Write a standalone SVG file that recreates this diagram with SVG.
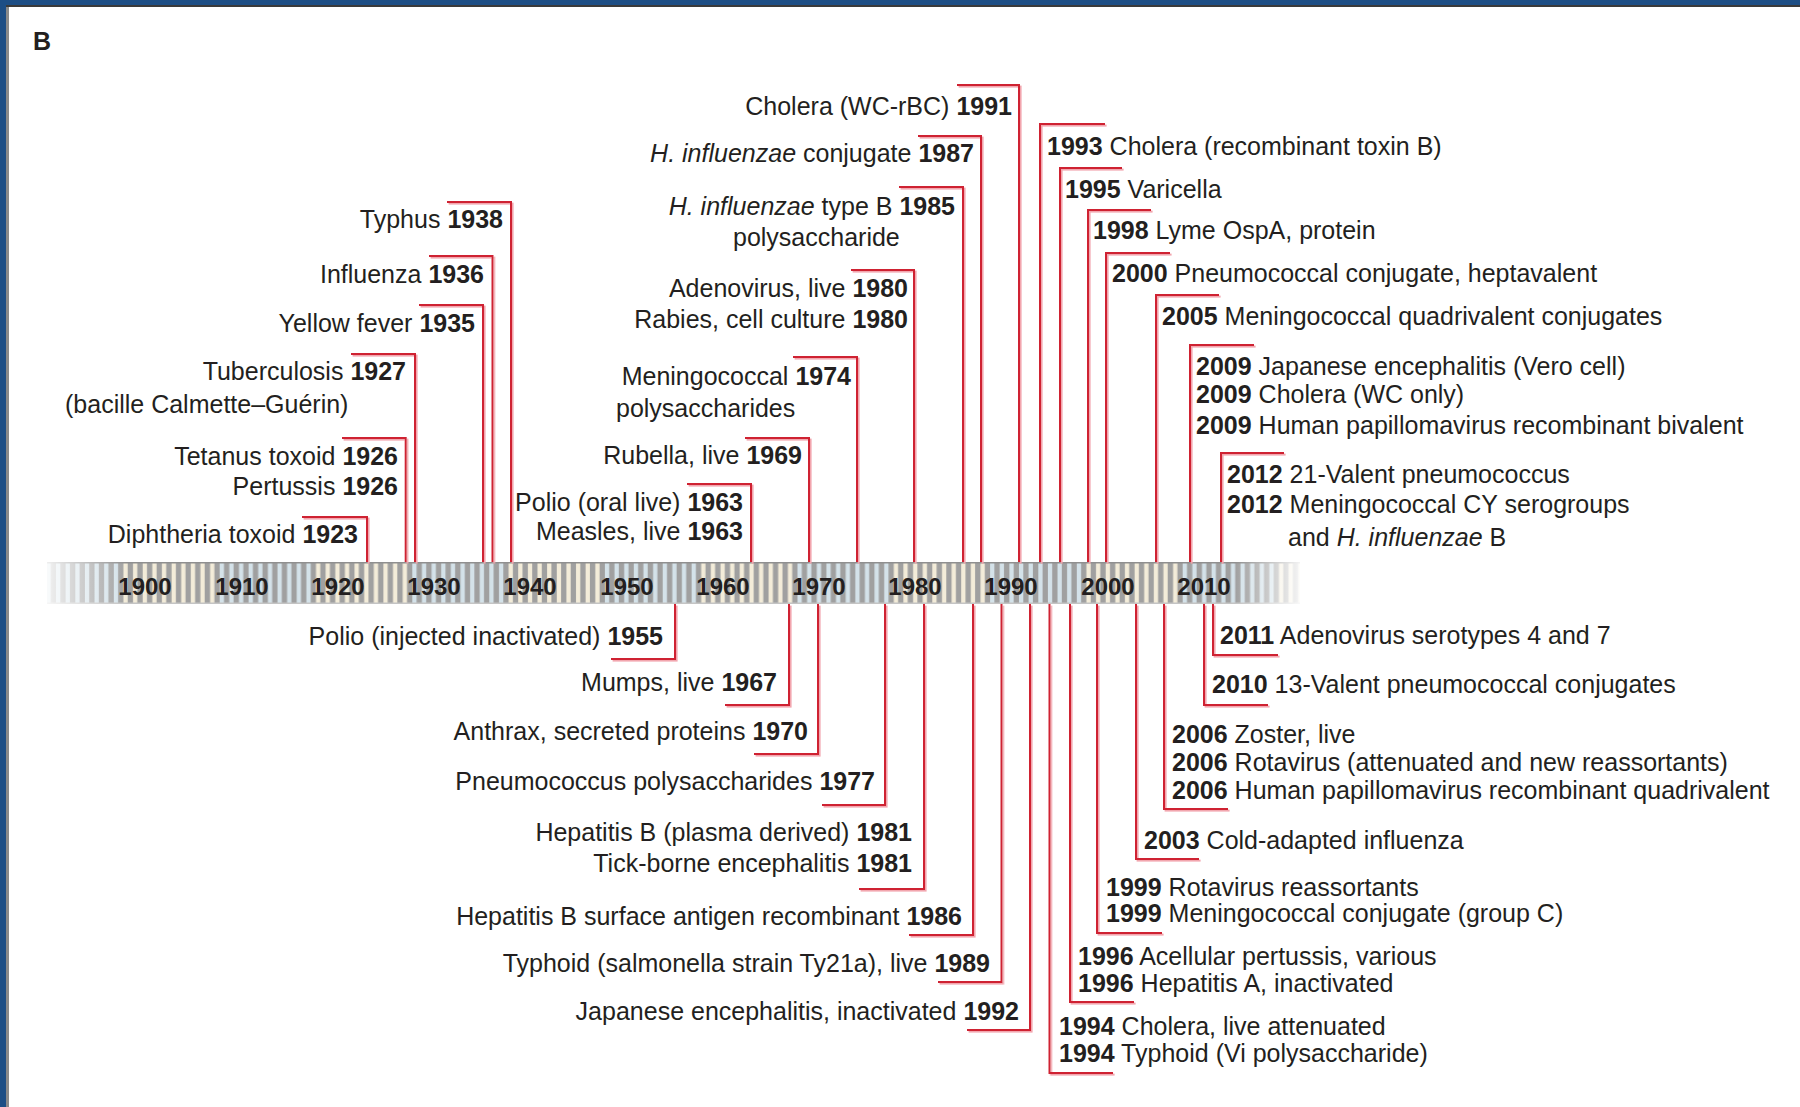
<svg xmlns="http://www.w3.org/2000/svg" width="1800" height="1107" viewBox="0 0 1800 1107">
<style>
.t{font-family:"Liberation Sans",Arial,sans-serif;font-size:25px;fill:#231f20}
.e{text-anchor:end}
.b{font-weight:bold}
.i{font-style:italic}
.yr{font-family:"Liberation Sans",Arial,sans-serif;font-size:24px;font-weight:bold;fill:#231f20;text-anchor:middle}
.c{fill:none;stroke:#cf2233;stroke-width:2}
</style>
<defs>
<filter id="sh" x="-5%" y="-5%" width="110%" height="110%">
<feDropShadow dx="1.6" dy="1.6" stdDeviation="0.4" flood-color="#f2a6ae" flood-opacity="1"/>
</filter>
<pattern id="stripes" patternUnits="userSpaceOnUse" x="120.9" y="0" width="192.6" height="50">
<rect x="0" y="0" width="192.6" height="50" fill="#a0a0a0"/>
<g fill="#f3ecd9">
<rect x="2.5" y="0" width="4.3" height="50"/><rect x="12.1" y="0" width="4.3" height="50"/><rect x="21.8" y="0" width="4.3" height="50"/><rect x="31.4" y="0" width="4.3" height="50"/><rect x="41" y="0" width="4.3" height="50"/><rect x="50.7" y="0" width="4.3" height="50"/><rect x="60.3" y="0" width="4.3" height="50"/><rect x="69.9" y="0" width="4.3" height="50"/><rect x="79.5" y="0" width="4.3" height="50"/><rect x="89.2" y="0" width="4.3" height="50"/>
</g>
<g fill="#d4e2e9">
<rect x="98.8" y="0" width="4.3" height="50"/><rect x="108.4" y="0" width="4.3" height="50"/><rect x="118.1" y="0" width="4.3" height="50"/><rect x="127.7" y="0" width="4.3" height="50"/><rect x="137.3" y="0" width="4.3" height="50"/><rect x="147" y="0" width="4.3" height="50"/><rect x="156.6" y="0" width="4.3" height="50"/><rect x="166.2" y="0" width="4.3" height="50"/><rect x="175.8" y="0" width="4.3" height="50"/><rect x="185.5" y="0" width="4.3" height="50"/>
</g>
</pattern>
<linearGradient id="fadeL" x1="0" y1="0" x2="1" y2="0">
<stop offset="0" stop-color="#fff" stop-opacity="0.85"/>
<stop offset="1" stop-color="#fff" stop-opacity="0"/>
</linearGradient>
<linearGradient id="fadeR" x1="0" y1="0" x2="1" y2="0">
<stop offset="0" stop-color="#fff" stop-opacity="0"/>
<stop offset="1" stop-color="#fff" stop-opacity="0.9"/>
</linearGradient>
</defs>
<rect x="0" y="0" width="1800" height="1107" fill="#fff"/>
<g id="frame">
<rect x="0" y="0" width="1800" height="5" fill="#1d4e85"/>
<rect x="0" y="5" width="1800" height="2" fill="#3a3a3a"/>
<rect x="0" y="0" width="6" height="1107" fill="#1d4e85"/>
<rect x="6" y="7" width="3" height="1100" fill="#8a8a8a"/>
</g>
<text class="t b" x="33" y="50" font-size="25">B</text>
<g id="timeline">
<rect x="47" y="562" width="1253" height="42" fill="url(#stripes)"/>
<rect x="47" y="562" width="1253" height="1.5" fill="#8f8f8f"/>
<rect x="47" y="602.5" width="1253" height="1.5" fill="#c4c4c4"/>
<rect x="47" y="561" width="80" height="44" fill="url(#fadeL)"/>
<rect x="1235" y="561" width="66" height="44" fill="url(#fadeR)"/>
<text class="yr" x="145" y="595">1900</text>
<text class="yr" x="242" y="595">1910</text>
<text class="yr" x="338" y="595">1920</text>
<text class="yr" x="434" y="595">1930</text>
<text class="yr" x="530" y="595">1940</text>
<text class="yr" x="627" y="595">1950</text>
<text class="yr" x="723" y="595">1960</text>
<text class="yr" x="819" y="595">1970</text>
<text class="yr" x="915" y="595">1980</text>
<text class="yr" x="1011" y="595">1990</text>
<text class="yr" x="1108" y="595">2000</text>
<text class="yr" x="1204" y="595">2010</text>
</g>
<g id="connectors" filter="url(#sh)">
<path class="c" d="M511,562V202H447"/>
<path class="c" d="M492.5,562V256H429"/>
<path class="c" d="M483,562V305H419"/>
<path class="c" d="M415,562V354H351"/>
<path class="c" d="M405.7,562V438H342"/>
<path class="c" d="M367,562V517H302"/>
<path class="c" d="M751,562V484H687"/>
<path class="c" d="M809,562V438H745"/>
<path class="c" d="M857,562V357H793"/>
<path class="c" d="M914,562V270H851"/>
<path class="c" d="M963,562V187H899"/>
<path class="c" d="M981,562V136H918"/>
<path class="c" d="M1019,562V85H957"/>
<path class="c" d="M1040,562V124H1105"/>
<path class="c" d="M1060,562V168H1122"/>
<path class="c" d="M1088,562V210H1151"/>
<path class="c" d="M1106,562V253H1170"/>
<path class="c" d="M1156,562V295H1219"/>
<path class="c" d="M1190,562V345H1254"/>
<path class="c" d="M1221,562V453H1284"/>
<path class="c" d="M675,604V659H611"/>
<path class="c" d="M789,604V705H725"/>
<path class="c" d="M818,604V754H754"/>
<path class="c" d="M885,604V805H822"/>
<path class="c" d="M924,604V889H859"/>
<path class="c" d="M973,604V935H909"/>
<path class="c" d="M1001.5,604V982H938"/>
<path class="c" d="M1030,604V1030H967"/>
<path class="c" d="M1049.5,604V1073H1113"/>
<path class="c" d="M1070,604V1002H1134"/>
<path class="c" d="M1097,604V933H1162"/>
<path class="c" d="M1136,604V859H1199"/>
<path class="c" d="M1164,604V809H1228"/>
<path class="c" d="M1204,604V705H1268"/>
<path class="c" d="M1213,604V655H1278"/>
</g>
<g id="n1938"><text class="t e" x="503" y="228">Typhus <tspan class="b">1938</tspan></text></g>
<g id="n1936"><text class="t e" x="484" y="283">Influenza <tspan class="b">1936</tspan></text></g>
<g id="n1935"><text class="t e" x="475" y="332">Yellow fever <tspan class="b">1935</tspan></text></g>
<g id="n1927"><text class="t e" x="406" y="380">Tuberculosis <tspan class="b">1927</tspan></text><text class="t" x="65" y="413">(bacille Calmette–Guérin)</text></g>
<g id="n1926"><text class="t e" x="398" y="465">Tetanus toxoid <tspan class="b">1926</tspan></text><text class="t e" x="398" y="495">Pertussis <tspan class="b">1926</tspan></text></g>
<g id="n1923"><text class="t e" x="358" y="543">Diphtheria toxoid <tspan class="b">1923</tspan></text></g>
<g id="n1963"><text class="t e" x="743" y="511">Polio (oral live) <tspan class="b">1963</tspan></text><text class="t e" x="743" y="540">Measles, live <tspan class="b">1963</tspan></text></g>
<g id="n1969"><text class="t e" x="802" y="464">Rubella, live <tspan class="b">1969</tspan></text></g>
<g id="n1974"><text class="t e" x="851" y="385">Meningococcal <tspan class="b">1974</tspan></text><text class="t" x="616" y="417">polysaccharides</text></g>
<g id="n1980"><text class="t e" x="908" y="297">Adenovirus, live <tspan class="b">1980</tspan></text><text class="t e" x="908" y="328">Rabies, cell culture <tspan class="b">1980</tspan></text></g>
<g id="n1985"><text class="t e" x="955" y="215"><tspan class="i">H. influenzae</tspan> type B <tspan class="b">1985</tspan></text><text class="t" x="733" y="246">polysaccharide</text></g>
<g id="n1987"><text class="t e" x="974" y="162"><tspan class="i">H. influenzae</tspan> conjugate <tspan class="b">1987</tspan></text></g>
<g id="n1991"><text class="t e" x="1012" y="115">Cholera (WC-rBC) <tspan class="b">1991</tspan></text></g>
<g id="n1993"><text class="t" x="1047" y="155"><tspan class="b">1993</tspan> Cholera (recombinant toxin B)</text></g>
<g id="n1995"><text class="t" x="1065" y="198"><tspan class="b">1995</tspan> Varicella</text></g>
<g id="n1998"><text class="t" x="1093" y="239"><tspan class="b">1998</tspan> Lyme OspA, protein</text></g>
<g id="n2000"><text class="t" x="1112" y="282"><tspan class="b">2000</tspan> Pneumococcal conjugate, heptavalent</text></g>
<g id="n2005"><text class="t" x="1162" y="325"><tspan class="b">2005</tspan> Meningococcal quadrivalent conjugates</text></g>
<g id="n2009"><text class="t" x="1196" y="375"><tspan class="b">2009</tspan> Japanese encephalitis (Vero cell)</text><text class="t" x="1196" y="403"><tspan class="b">2009</tspan> Cholera (WC only)</text><text class="t" x="1196" y="434"><tspan class="b">2009</tspan> Human papillomavirus recombinant bivalent</text></g>
<g id="n2012"><text class="t" x="1227" y="483"><tspan class="b">2012</tspan> 21-Valent pneumococcus</text><text class="t" x="1227" y="513"><tspan class="b">2012</tspan> Meningococcal CY serogroups</text><text class="t" x="1288" y="546">and <tspan class="i">H. influenzae</tspan> B</text></g>
<g id="n1955"><text class="t e" x="663" y="645">Polio (injected inactivated) <tspan class="b">1955</tspan></text></g>
<g id="n1967"><text class="t e" x="777" y="691">Mumps, live <tspan class="b">1967</tspan></text></g>
<g id="n1970"><text class="t e" x="808" y="740">Anthrax, secreted proteins <tspan class="b">1970</tspan></text></g>
<g id="n1977"><text class="t e" x="875" y="790">Pneumococcus polysaccharides <tspan class="b">1977</tspan></text></g>
<g id="n1981"><text class="t e" x="912" y="841">Hepatitis B (plasma derived) <tspan class="b">1981</tspan></text><text class="t e" x="912" y="872">Tick-borne encephalitis <tspan class="b">1981</tspan></text></g>
<g id="n1986"><text class="t e" x="962" y="925">Hepatitis B surface antigen recombinant <tspan class="b">1986</tspan></text></g>
<g id="n1989"><text class="t e" x="990" y="972">Typhoid (salmonella strain Ty21a), live <tspan class="b">1989</tspan></text></g>
<g id="n1992"><text class="t e" x="1019" y="1020">Japanese encephalitis, inactivated <tspan class="b">1992</tspan></text></g>
<g id="n2011"><text class="t" x="1220" y="644"><tspan class="b">2011</tspan> Adenovirus serotypes 4 and 7</text></g>
<g id="n2010"><text class="t" x="1212" y="693"><tspan class="b">2010</tspan> 13-Valent pneumococcal conjugates</text></g>
<g id="n2006"><text class="t" x="1172" y="743"><tspan class="b">2006</tspan> Zoster, live</text><text class="t" x="1172" y="771"><tspan class="b">2006</tspan> Rotavirus (attenuated and new reassortants)</text><text class="t" x="1172" y="799"><tspan class="b">2006</tspan> Human papillomavirus recombinant quadrivalent</text></g>
<g id="n2003"><text class="t" x="1144" y="849"><tspan class="b">2003</tspan> Cold-adapted influenza</text></g>
<g id="n1999"><text class="t" x="1106" y="896"><tspan class="b">1999</tspan> Rotavirus reassortants</text><text class="t" x="1106" y="922"><tspan class="b">1999</tspan> Meningococcal conjugate (group C)</text></g>
<g id="n1996"><text class="t" x="1078" y="965"><tspan class="b">1996</tspan> Acellular pertussis, various</text><text class="t" x="1078" y="992"><tspan class="b">1996</tspan> Hepatitis A, inactivated</text></g>
<g id="n1994"><text class="t" x="1059" y="1035"><tspan class="b">1994</tspan> Cholera, live attenuated</text><text class="t" x="1059" y="1062"><tspan class="b">1994</tspan> Typhoid (Vi polysaccharide)</text></g>
</svg>
